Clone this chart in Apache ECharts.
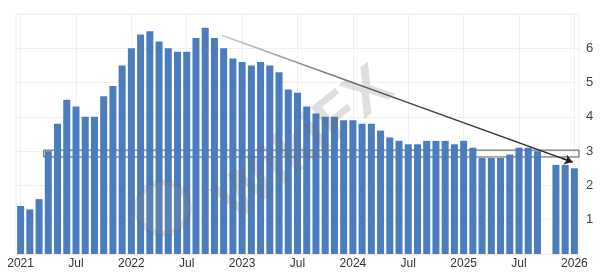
<!DOCTYPE html>
<html><head><meta charset="utf-8">
<script src="https://cdn.jsdelivr.net/npm/echarts@6/dist/echarts.min.js"></script>
<style>html,body{margin:0;padding:0;background:#fff}#c{width:601px;height:276px}</style>
</head><body><div id="c"></div>
<script>
// Monthly categories (Jan 2021 .. Jan 2026)
const months = [
  '2021-01','2021-02','2021-03','2021-04','2021-05','2021-06','2021-07','2021-08','2021-09','2021-10','2021-11','2021-12',
  '2022-01','2022-02','2022-03','2022-04','2022-05','2022-06','2022-07','2022-08','2022-09','2022-10','2022-11','2022-12',
  '2023-01','2023-02','2023-03','2023-04','2023-05','2023-06','2023-07','2023-08','2023-09','2023-10','2023-11','2023-12',
  '2024-01','2024-02','2024-03','2024-04','2024-05','2024-06','2024-07','2024-08','2024-09','2024-10','2024-11','2024-12',
  '2025-01','2025-02','2025-03','2025-04','2025-05','2025-06','2025-07','2025-08','2025-09','2025-10','2025-11','2025-12',
  '2026-01'
];
// Values (Oct 2025 missing)
const values = [
  1.4, 1.3, 1.6, 3.0, 3.8, 4.5, 4.3, 4.0, 4.0, 4.6, 4.9, 5.5,
  6.0, 6.4, 6.5, 6.2, 6.0, 5.9, 5.9, 6.3, 6.6, 6.3, 6.0, 5.7,
  5.6, 5.5, 5.6, 5.5, 5.3, 4.8, 4.7, 4.3, 4.1, 4.0, 4.0, 3.9,
  3.9, 3.8, 3.8, 3.6, 3.4, 3.3, 3.2, 3.2, 3.3, 3.3, 3.3, 3.2,
  3.3, 3.1, 2.8, 2.8, 2.8, 2.9, 3.1, 3.1, 3.0, null, 2.6, 2.6,
  2.5
];
// X tick positions (month index) and their labels
const tickIndex = [0, 6, 12, 18, 24, 30, 36, 42, 48, 54, 60];
const tickLabels = ['2021','Jul','2022','Jul','2023','Jul','2024','Jul','2025','Jul','2026'];
// Y labels shown
const yLabels = [1, 2, 3, 4, 5, 6];
// Annotation: horizontal band (start month index, low, high) and trend arrow
const bandStartIdx = 2.5;
const bandLow = 2.83;
const bandHigh = 3.03;
const trendFrom = [21.8, 6.38];
const trendTo = [59.8, 2.68];

// short tail segment near the arrow end (fraction of the trend line), carries the arrowhead
const headFrac = 0.97;
const headFrom = [trendFrom[0] + (trendTo[0] - trendFrom[0]) * headFrac,
                  trendFrom[1] + (trendTo[1] - trendFrom[1]) * headFrac];

const chart = echarts.init(document.getElementById('c'), null, {renderer: 'canvas'});
const barData = months.map((m, i) => [i, values[i]]);

chart.setOption({
  animation: false,
  backgroundColor: '#fff',
  textStyle: {fontFamily: 'Liberation Sans, Arial, sans-serif'},
  grid: {left: 16, right: 22, top: 14, bottom: 22, show: true, borderColor: '#efefef', borderWidth: 1},
  xAxis: {
    type: 'value', min: -0.5, max: months.length - 0.5,
    axisLine: {show: false},
    axisTick: {show: false, customValues: tickIndex},
    axisLabel: {
      customValues: tickIndex, margin: 4, fontSize: 12, color: '#333',
      formatter: v => tickLabels[tickIndex.indexOf(Math.round(v))] || ''
    },
    splitLine: {show: true, lineStyle: {color: '#efefef', width: 1}}
  },
  yAxis: {
    type: 'value', position: 'right', min: 0, max: 7, interval: 1,
    axisLine: {show: false}, axisTick: {show: false},
    axisLabel: {margin: 7, fontSize: 13, color: '#444',
      formatter: v => yLabels.indexOf(v) >= 0 ? String(v) : ''},
    splitLine: {show: true, lineStyle: {color: '#efefef', width: 1}}
  },
  graphic: [{
    type: 'text', x: 305, y: 145, rotation: 0.68, z: 100, silent: true,
    style: {text: 'WikiFX', font: 'bold 62px Liberation Sans, Arial, sans-serif',
      fill: 'rgba(110,110,110,0.22)', textAlign: 'center', textVerticalAlign: 'middle'}
  }, {
    type: 'circle', shape: {cx: 163, cy: 208, r: 26}, z: 100, silent: true,
    style: {fill: 'rgba(200,190,120,0.12)', stroke: 'rgba(110,110,110,0.18)', lineWidth: 6}
  }],
  series: [{
    type: 'bar',
    data: barData,
    barWidth: 7,
    itemStyle: {color: '#4b7cbe'},
    markArea: {
      silent: true,
      itemStyle: {color: 'rgba(255,255,255,0.12)', borderColor: '#555', borderWidth: 1},
      data: [[{coord: [bandStartIdx, bandLow]}, {coord: [months.length - 0.5, bandHigh]}]]
    },
    markLine: {
      silent: true,
      symbol: ['none', 'none'],
      label: {show: false},
      lineStyle: {type: 'solid', width: 1.5, color: '#333'},
      data: [
        [{coord: trendFrom, lineStyle: {
          color: new echarts.graphic.LinearGradient(0, 0, 1, 0, [
            {offset: 0, color: '#d0d0d0'},
            {offset: 0.45, color: '#555'},
            {offset: 1, color: '#222'}
          ])}}, {coord: trendTo}],
        [{coord: headFrom, symbol: 'none', lineStyle: {color: '#222'}},
         {coord: trendTo, symbol: 'arrow', symbolSize: 8}]
      ]
    }
  }]
});
</script>
</body></html>
